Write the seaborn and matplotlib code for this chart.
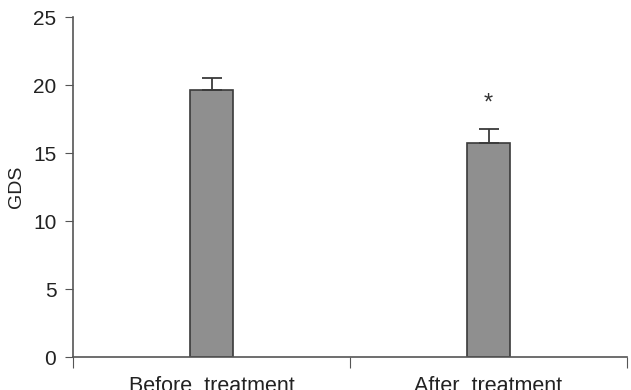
import numpy as np
import pandas as pd
import seaborn as sns
import matplotlib
matplotlib.use("Agg")
import matplotlib.pyplot as plt

# data
groups = ["Before  treatment", "After  treatment"]
gds_mean = [19.6, 15.7]
gds_err = [0.95, 1.1]
sig_marks = ["", "*"]

df = pd.DataFrame({"group": groups, "GDS": gds_mean})

sns.set_style("ticks")
plt.rcParams["font.family"] = ["Liberation Sans", "DejaVu Sans"]

fig = plt.figure(figsize=(6.31, 3.90), dpi=100)
ax = fig.add_axes([0.1157, 0.0846, 0.8780, 0.8718])

sns.barplot(data=df, x="group", y="GDS", color="#8f8f8f", width=0.155,
            edgecolor="#3a3a3a", linewidth=1.2, saturation=1, errorbar=None, ax=ax)

xpos = np.arange(len(groups))
ax.errorbar(xpos, gds_mean, yerr=[np.zeros(len(gds_err)), gds_err], fmt="none",
            ecolor="#3a3a3a", elinewidth=1.3, capsize=7, capthick=1.3)
for x, m, e, s in zip(xpos, gds_mean, gds_err, sig_marks):
    if s:
        ax.text(x, m + e + 1.0, s, ha="center", va="bottom", fontsize=17, color="#333333")

ax.set_ylim(0, 25)
ax.set_xlim(-0.5, 1.5)
ax.set_yticks([0, 5, 10, 15, 20, 25])
ax.set_xticks([-0.5, 0.5, 1.5])
ax.set_xticklabels([])
ax.set_xticks(xpos, minor=True)
ax.set_xticklabels(groups, minor=True)
ax.tick_params(axis="x", which="major", length=8, direction="out", color="#555555")
ax.tick_params(axis="x", which="minor", length=0, pad=14, labelsize=15.5, labelcolor="#222222")
ax.tick_params(axis="y", length=6, direction="out", color="#555555", labelsize=15,
               labelcolor="#222222", pad=6)
ax.set_xlabel("")
ax.set_ylabel("GDS", fontsize=14, color="#222222", labelpad=6)
sns.despine(ax=ax)
for sp in ["left", "bottom"]:
    ax.spines[sp].set_color("#555555")
    ax.spines[sp].set_linewidth(1.2)

fig.savefig("out.png", dpi=100)
